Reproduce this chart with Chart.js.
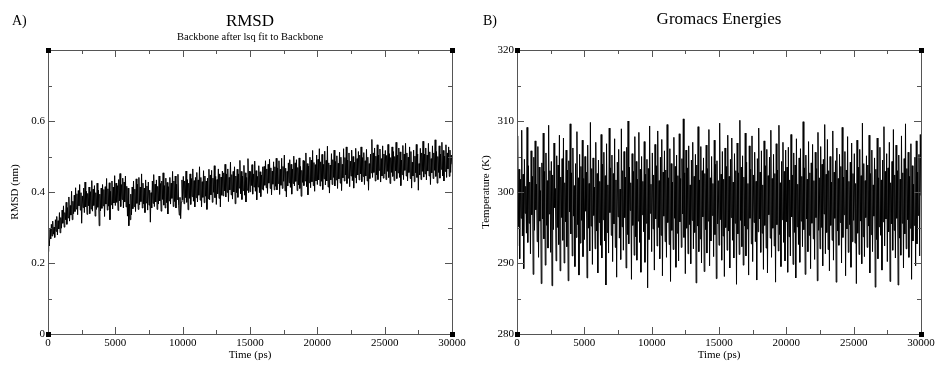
<!DOCTYPE html>
<html>
<head>
<meta charset="utf-8">
<script src="https://cdn.jsdelivr.net/npm/chart.js@4.4.0/dist/chart.umd.min.js"></script>
<style>
  body { margin: 0; background: #fff; width: 946px; height: 370px; position: relative; overflow: hidden; font-family: "Liberation Serif", serif; }
  .panel { position: absolute; top: 0; width: 473px; height: 370px; }
  .tag { position: absolute; top: 13px; font-size: 14px; line-height: 16px; color: #000; }
</style>
</head>
<body>
<div class="panel" style="left:0"><canvas id="rmsdChart" width="473" height="370"></canvas></div>
<div class="panel" style="left:473px"><canvas id="tempChart" width="473" height="370"></canvas></div>
<div class="tag" style="left:12px">A)</div>
<div class="tag" style="left:483px">B)</div>
<script>
const SERIF = '"Liberation Serif", "DejaVu Serif", serif';

// time axis (ps), samples are evenly spaced from 0 to timeMax (one row = 1000 ps)
const timeMax = 30000;

// RMSD (nm)
const rmsdValues = [
  0.232, 0.262, 0.248, 0.295, 0.268, 0.309, 0.276, 0.318, 0.281, 0.301, 0.272, 0.322, 0.289, 0.331, 0.279, 0.319, 0.296, 0.342, 0.285, 0.328,
  0.298, 0.349, 0.312, 0.361, 0.301, 0.342, 0.322, 0.371, 0.309, 0.356, 0.327, 0.386, 0.318, 0.362, 0.335, 0.402, 0.322, 0.374, 0.339, 0.391,
  0.345, 0.412, 0.352, 0.395, 0.336, 0.404, 0.361, 0.421, 0.349, 0.398, 0.312, 0.389, 0.356, 0.411, 0.342, 0.428, 0.358, 0.402, 0.337, 0.396,
  0.361, 0.414, 0.339, 0.401, 0.352, 0.432, 0.346, 0.408, 0.362, 0.418, 0.332, 0.398, 0.351, 0.425, 0.357, 0.405, 0.305, 0.394, 0.347, 0.411,
  0.354, 0.421, 0.361, 0.407, 0.331, 0.415, 0.366, 0.438, 0.349, 0.409, 0.360, 0.426, 0.322, 0.402, 0.364, 0.431, 0.352, 0.414, 0.369, 0.446,
  0.362, 0.425, 0.371, 0.418, 0.348, 0.435, 0.375, 0.452, 0.359, 0.421, 0.379, 0.439, 0.355, 0.428, 0.372, 0.445, 0.358, 0.416, 0.332, 0.411,
  0.305, 0.366, 0.322, 0.394, 0.336, 0.414, 0.353, 0.431, 0.359, 0.408, 0.345, 0.437, 0.368, 0.422, 0.351, 0.441, 0.364, 0.414, 0.373, 0.451,
  0.355, 0.425, 0.366, 0.411, 0.342, 0.434, 0.369, 0.417, 0.349, 0.428, 0.363, 0.405, 0.315, 0.398, 0.355, 0.431, 0.368, 0.449, 0.359, 0.422,
  0.372, 0.434, 0.351, 0.416, 0.366, 0.445, 0.375, 0.424, 0.346, 0.431, 0.379, 0.454, 0.363, 0.418, 0.355, 0.439, 0.370, 0.427, 0.338, 0.415,
  0.375, 0.441, 0.366, 0.425, 0.382, 0.458, 0.359, 0.431, 0.373, 0.445, 0.355, 0.422, 0.379, 0.450, 0.363, 0.335, 0.385, 0.325, 0.372, 0.434,
  0.378, 0.444, 0.367, 0.431, 0.384, 0.459, 0.371, 0.435, 0.350, 0.425, 0.382, 0.451, 0.365, 0.438, 0.387, 0.465, 0.374, 0.432, 0.358, 0.441,
  0.384, 0.455, 0.372, 0.434, 0.391, 0.471, 0.377, 0.441, 0.358, 0.429, 0.385, 0.460, 0.370, 0.445, 0.388, 0.431, 0.351, 0.439, 0.381, 0.464,
  0.378, 0.448, 0.392, 0.461, 0.371, 0.439, 0.399, 0.474, 0.384, 0.444, 0.365, 0.435, 0.395, 0.465, 0.382, 0.451, 0.358, 0.442, 0.391, 0.459,
  0.389, 0.454, 0.403, 0.478, 0.386, 0.451, 0.399, 0.465, 0.373, 0.441, 0.406, 0.484, 0.392, 0.449, 0.380, 0.458, 0.400, 0.471, 0.367, 0.445,
  0.398, 0.464, 0.385, 0.451, 0.411, 0.489, 0.395, 0.458, 0.379, 0.445, 0.404, 0.475, 0.391, 0.454, 0.372, 0.441, 0.405, 0.494, 0.398, 0.459,
  0.401, 0.458, 0.418, 0.477, 0.394, 0.451, 0.414, 0.487, 0.402, 0.460, 0.378, 0.444, 0.414, 0.474, 0.398, 0.457, 0.387, 0.448, 0.408, 0.471,
  0.405, 0.472, 0.419, 0.488, 0.412, 0.465, 0.396, 0.478, 0.425, 0.492, 0.410, 0.468, 0.392, 0.459, 0.422, 0.485, 0.406, 0.471, 0.416, 0.495,
  0.406, 0.468, 0.424, 0.488, 0.393, 0.464, 0.419, 0.495, 0.410, 0.472, 0.430, 0.504, 0.403, 0.467, 0.386, 0.458, 0.417, 0.482, 0.426, 0.491,
  0.413, 0.478, 0.394, 0.465, 0.424, 0.501, 0.417, 0.482, 0.430, 0.491, 0.404, 0.469, 0.420, 0.496, 0.410, 0.472, 0.388, 0.461, 0.427, 0.489,
  0.418, 0.487, 0.431, 0.510, 0.415, 0.480, 0.392, 0.473, 0.426, 0.498, 0.412, 0.490, 0.429, 0.517, 0.418, 0.483, 0.402, 0.477, 0.431, 0.504,
  0.421, 0.492, 0.434, 0.522, 0.417, 0.485, 0.430, 0.506, 0.407, 0.478, 0.437, 0.515, 0.420, 0.489, 0.431, 0.529, 0.414, 0.482, 0.397, 0.476,
  0.434, 0.508, 0.421, 0.491, 0.441, 0.518, 0.417, 0.486, 0.434, 0.502, 0.410, 0.481, 0.437, 0.512, 0.425, 0.498, 0.404, 0.478, 0.440, 0.522,
  0.431, 0.497, 0.448, 0.527, 0.424, 0.490, 0.439, 0.510, 0.415, 0.487, 0.445, 0.518, 0.432, 0.500, 0.411, 0.484, 0.441, 0.523, 0.425, 0.494,
  0.448, 0.514, 0.434, 0.504, 0.451, 0.527, 0.429, 0.497, 0.444, 0.511, 0.421, 0.488, 0.445, 0.520, 0.431, 0.498, 0.405, 0.480, 0.438, 0.507,
  0.454, 0.548, 0.441, 0.510, 0.455, 0.524, 0.431, 0.501, 0.448, 0.533, 0.435, 0.504, 0.461, 0.521, 0.428, 0.494, 0.445, 0.530, 0.439, 0.507,
  0.451, 0.517, 0.435, 0.503, 0.458, 0.534, 0.441, 0.508, 0.424, 0.497, 0.455, 0.527, 0.444, 0.514, 0.432, 0.500, 0.459, 0.540, 0.438, 0.504,
  0.454, 0.524, 0.441, 0.513, 0.418, 0.490, 0.449, 0.531, 0.435, 0.507, 0.461, 0.537, 0.445, 0.510, 0.431, 0.498, 0.455, 0.527, 0.438, 0.514,
  0.411, 0.484, 0.445, 0.518, 0.429, 0.501, 0.454, 0.534, 0.441, 0.507, 0.405, 0.480, 0.448, 0.523, 0.435, 0.510, 0.458, 0.543, 0.442, 0.507,
  0.451, 0.524, 0.434, 0.504, 0.459, 0.537, 0.445, 0.513, 0.421, 0.494, 0.454, 0.530, 0.438, 0.510, 0.461, 0.547, 0.444, 0.514, 0.425, 0.500,
  0.455, 0.530, 0.439, 0.507, 0.464, 0.540, 0.445, 0.517, 0.431, 0.501, 0.458, 0.533, 0.441, 0.510, 0.465, 0.527, 0.444, 0.518, 0.455, 0.504,
  0.478
];

// Temperature (K)
const temperatureValues = [
  292.4, 307.9, 295.1, 303.2, 290.6, 301.8, 296.3, 308.7, 293.8, 302.5, 289.2, 304.6, 297.0, 300.8, 294.2, 309.1, 292.9, 303.7, 295.6, 301.4,
  291.3, 305.8, 296.8, 302.2, 288.4, 304.9, 294.6, 307.2, 297.5, 301.1, 293.0, 306.4, 290.8, 303.5, 295.9, 300.2, 287.1, 304.1, 296.2, 308.3,
  293.4, 302.9, 289.7, 305.5, 295.3, 301.6, 292.1, 309.4, 296.9, 303.0, 291.5, 304.3, 286.8, 302.4, 294.7, 306.9, 297.8, 300.5, 290.3, 305.1,
  295.0, 303.8, 292.6, 308.0, 288.9, 302.1, 296.4, 304.7, 293.2, 307.6, 290.0, 301.3, 295.8, 305.9, 292.3, 303.1, 287.5, 304.4, 297.2, 309.6,
  294.1, 302.7, 291.0, 306.2, 296.6, 300.9, 289.5, 304.0, 293.6, 308.5, 295.4, 302.0, 288.3, 305.3, 292.8, 303.6, 296.0, 307.3, 290.9, 301.9,
  293.3, 305.0, 297.3, 302.8, 287.9, 306.6, 294.9, 301.2, 291.7, 309.8, 295.2, 303.3, 289.8, 304.8, 296.7, 300.7, 292.0, 307.0, 294.5, 302.6,
  288.6, 304.5, 295.7, 301.5, 292.5, 308.1, 290.7, 303.9, 296.1, 305.6, 293.1, 302.3, 286.9, 306.8, 294.3, 301.0, 291.4, 309.0, 297.1, 303.4,
  293.9, 305.2, 290.2, 302.6, 295.5, 307.5, 292.2, 301.7, 288.0, 304.2, 296.5, 306.0, 293.5, 300.4, 290.5, 308.9, 295.1, 303.0, 291.8, 305.7,
  296.4, 302.1, 289.3, 306.3, 294.0, 310.0, 292.7, 303.5, 297.4, 301.3, 287.7, 305.4, 295.3, 302.9, 291.1, 307.8, 293.7, 304.3, 290.4, 301.8,
  295.9, 308.4, 292.9, 303.2, 288.7, 305.0, 296.8, 301.5, 294.4, 307.1, 290.1, 302.5, 295.6, 304.6, 286.5, 303.3, 293.3, 309.3, 297.0, 301.1,
  291.6, 305.5, 294.8, 302.4, 289.0, 306.7, 296.2, 303.7, 292.4, 308.6, 295.0, 301.6, 290.6, 304.9, 293.9, 307.4, 288.2, 302.8, 296.6, 305.8,
  293.0, 303.1, 290.8, 309.5, 295.7, 302.0, 292.6, 306.1, 287.4, 304.0, 294.6, 301.4, 291.9, 307.7, 296.3, 303.6, 289.4, 305.2, 294.2, 302.3,
  290.3, 308.2, 295.8, 301.9, 292.2, 304.7, 296.9, 310.3, 293.6, 302.7, 288.5, 305.9, 294.9, 303.4, 291.3, 306.5, 295.4, 301.0, 289.9, 304.5,
  296.0, 307.0, 292.0, 302.2, 294.3, 305.3, 287.2, 303.8, 295.2, 309.2, 291.6, 301.7, 293.4, 306.4, 290.0, 303.0, 296.5, 304.8, 288.8, 302.6,
  294.7, 306.6, 291.4, 303.3, 295.9, 308.8, 289.6, 302.0, 293.1, 305.0, 296.7, 301.2, 290.9, 307.3, 294.0, 303.9, 287.8, 304.4, 295.5, 301.6,
  292.5, 309.7, 296.1, 302.5, 290.4, 305.7, 293.8, 301.8, 288.1, 306.2, 295.0, 303.6, 291.8, 308.0, 294.5, 302.2, 289.3, 304.6, 296.4, 307.6,
  293.2, 301.4, 290.7, 305.4, 295.6, 303.0, 287.0, 306.9, 294.1, 302.7, 291.2, 310.1, 296.0, 303.5, 292.3, 305.1, 289.7, 302.1, 295.2, 308.3,
  291.0, 304.2, 294.8, 301.2, 288.3, 306.5, 296.3, 303.2, 292.7, 307.9, 290.2, 302.4, 295.7, 305.6, 293.0, 301.5, 287.6, 304.7, 294.4, 309.0,
  296.2, 302.8, 291.5, 305.8, 294.2, 301.0, 289.1, 307.2, 295.3, 303.7, 292.1, 306.0, 288.6, 302.3, 296.8, 304.9, 293.5, 308.7, 290.8, 301.9,
  294.9, 305.3, 292.4, 302.6, 287.3, 306.8, 295.4, 303.1, 291.7, 309.4, 294.0, 301.3, 289.5, 304.3, 296.1, 307.0, 292.9, 302.9, 290.3, 305.9,
  295.8, 303.5, 288.7, 306.3, 293.7, 301.7, 291.0, 308.1, 296.5, 302.4, 289.8, 305.5, 294.3, 303.8, 287.9, 307.5, 295.1, 301.1, 292.6, 304.8,
  290.1, 306.1, 295.9, 302.2, 292.3, 309.9, 294.7, 303.4, 288.4, 305.2, 296.2, 301.8, 291.6, 307.1, 293.9, 302.7, 289.2, 304.1, 295.6, 306.7,
  293.4, 301.6, 290.5, 305.6, 296.4, 303.3, 287.5, 308.4, 294.6, 302.0, 292.0, 306.4, 295.0, 303.9, 289.6, 304.6, 296.9, 309.5, 291.3, 302.5,
  294.3, 307.4, 291.9, 303.0, 288.9, 305.0, 295.3, 301.4, 293.2, 308.6, 290.4, 302.8, 296.3, 304.4, 287.3, 306.2, 294.5, 301.9, 292.5, 305.3,
  295.7, 303.6, 290.0, 309.1, 293.6, 302.1, 296.8, 305.7, 288.2, 303.1, 294.8, 307.8, 291.5, 301.5, 295.4, 304.2, 289.4, 306.9, 293.0, 302.6,
  296.0, 305.4, 292.8, 301.2, 287.1, 307.3, 294.2, 303.5, 291.2, 306.0, 295.9, 302.3, 289.9, 309.7, 293.7, 304.0, 290.9, 301.6, 296.4, 305.1,
  292.2, 303.8, 295.2, 308.0, 288.6, 302.6, 294.0, 305.9, 291.6, 301.0, 296.6, 304.8, 286.6, 303.2, 293.3, 307.6, 290.6, 302.0, 295.1, 306.3,
  293.9, 301.7, 289.0, 304.5, 295.8, 309.2, 292.4, 302.9, 296.2, 305.4, 290.2, 303.4, 294.4, 307.0, 287.4, 301.3, 295.5, 304.3, 291.8, 308.8,
  294.6, 302.4, 290.7, 306.6, 296.3, 303.0, 286.9, 305.2, 293.5, 301.8, 291.1, 307.9, 295.6, 302.7, 289.3, 304.7, 294.1, 309.6, 292.0, 303.3,
  296.1, 305.6, 290.8, 302.2, 294.9, 306.8, 287.7, 303.7, 293.1, 301.1, 295.3, 304.9, 289.6, 307.2, 292.7, 302.8, 296.7, 305.3, 291.0, 308.1,
  299.5
];

function toPoints(values) {
  return values.map((v, i) => ({ x: (i * timeMax) / (values.length - 1), y: v }));
}

// frame round the plot, inward ticks on all four sides and the little corner squares
const framePlugin = {
  id: "frame",
  afterDraw(chart) {
    const { ctx, chartArea: a, scales } = chart;
    ctx.save();
    ctx.strokeStyle = "#555";
    ctx.lineWidth = 1;
    ctx.strokeRect(Math.round(a.left) + 0.5, Math.round(a.top) + 0.5, Math.round(a.right - a.left), Math.round(a.bottom - a.top));
    ctx.beginPath();
    scales.x.ticks.forEach((t) => {
      const len = t.label !== "" ? 7 : 4;
      const px = Math.round(scales.x.getPixelForValue(t.value)) + 0.5;
      ctx.moveTo(px, a.bottom); ctx.lineTo(px, a.bottom - len);
      ctx.moveTo(px, a.top); ctx.lineTo(px, a.top + len);
    });
    scales.y.ticks.forEach((t, i) => {
      const len = i % 2 === 0 ? 7 : 4;
      const py = Math.round(scales.y.getPixelForValue(t.value)) + 0.5;
      ctx.moveTo(a.left, py); ctx.lineTo(a.left + len, py);
      ctx.moveTo(a.right, py); ctx.lineTo(a.right - len, py);
    });
    ctx.stroke();
    ctx.fillStyle = "#000";
    [[a.left, a.top], [a.right, a.top], [a.left, a.bottom], [a.right, a.bottom]].forEach(([x, y]) => {
      ctx.fillRect(Math.round(x) - 2, Math.round(y) - 2, 5, 5);
    });
    ctx.restore();
  },
};

function buildChart(canvasId, cfg) {
  return new Chart(document.getElementById(canvasId), {
    type: "line",
    data: {
      datasets: [{ data: toPoints(cfg.values), borderColor: "#000", borderWidth: 1, pointRadius: 0, tension: 0 }],
    },
    options: {
      responsive: false,
      animation: false,
      events: [],
      layout: { padding: { left: 0, right: cfg.padRight, top: 0, bottom: 0 } },
      plugins: {
        legend: { display: false },
        tooltip: { enabled: false },
        title: {
          display: true, fullSize: false, text: cfg.title, color: "#000",
          font: { family: SERIF, size: 17, weight: "normal" }, padding: cfg.titlePad,
        },
        subtitle: {
          display: !!cfg.subtitle, fullSize: false, text: cfg.subtitle || "", color: "#000",
          font: { family: SERIF, size: 10.5, weight: "normal" }, padding: cfg.subPad || 0,
        },
      },
      scales: {
        x: {
          type: "linear", min: 0, max: timeMax,
          afterFit: (s) => { s.height = 36; },
          grid: { display: false, drawTicks: false }, border: { display: false },
          ticks: {
            stepSize: 2500, autoSkip: false, maxRotation: 0, padding: 3, color: "#000",
            font: { family: SERIF, size: 11 },
            callback: (v) => (v % 5000 === 0 ? String(v) : ""),
          },
          title: {
            display: true, text: "Time (ps)", color: "#000",
            font: { family: SERIF, size: 11 }, padding: { top: 0, bottom: 8 },
          },
        },
        y: {
          min: cfg.yMin, max: cfg.yMax,
          afterFit: (s) => { s.width = cfg.yWidth; },
          grid: { display: false, drawTicks: false }, border: { display: false },
          ticks: {
            stepSize: cfg.yStep, autoSkip: false, padding: 3, color: "#000",
            font: { family: SERIF, size: 11 },
            callback: cfg.yLabel,
          },
          title: {
            display: true, text: cfg.yTitle, color: "#000",
            font: { family: SERIF, size: 11 }, padding: { top: cfg.yTitlePad, bottom: 0 },
          },
        },
      },
    },
    plugins: [framePlugin],
  });
}

buildChart("rmsdChart", {
  values: rmsdValues,
  title: "RMSD",
  subtitle: "Backbone after lsq fit to Backbone",
  titlePad: { top: 11, bottom: 0 },
  subPad: { top: 0, bottom: 6 },
  padRight: 21,
  yWidth: 48,
  yMin: 0, yMax: 0.8, yStep: 0.1,
  yTitle: "RMSD (nm)", yTitlePad: 9,
  yLabel: (v) => {
    const k = Math.round(v * 10);
    if (k % 2 !== 0 || k >= 8) return "";
    return k === 0 ? "0" : (k / 10).toFixed(1);
  },
});

buildChart("tempChart", {
  values: temperatureValues,
  title: "Gromacs Energies",
  titlePad: { top: 9, bottom: 20.6 },
  padRight: 25,
  yWidth: 44,
  yMin: 280, yMax: 320, yStep: 5,
  yTitle: "Temperature (K)", yTitlePad: 7,
  yLabel: (v) => (v % 10 === 0 ? String(v) : ""),
});
</script>
</body>
</html>
